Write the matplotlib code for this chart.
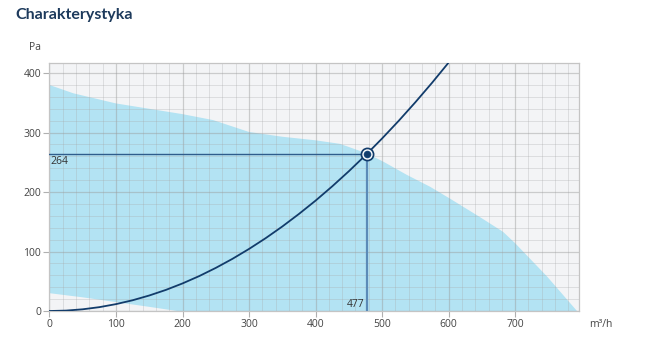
import matplotlib.pyplot as plt
from matplotlib.ticker import MultipleLocator

# zakres pracy wentylatora (obszar)
upper_x = [0, 36, 100, 150, 200, 246, 300, 350, 400, 437, 477, 502, 537, 572, 602,
           647, 682, 700, 748, 793]
upper_y = [380, 366, 349, 340, 331, 321, 301, 293, 287, 281, 265, 251, 229, 209, 189,
           158, 133, 114, 58, 0]
lower_x = [0, 50, 100, 150, 192]
lower_y = [30, 23, 15, 7, 0]

# charakterystyka instalacji
curve_x = [0, 25, 50, 75, 100, 125, 150, 175, 200, 225, 250, 275, 300, 325, 350,
           375, 400, 425, 450, 477, 500, 525, 550, 575, 600]
curve_y = [0, 0.7, 2.9, 6.5, 11.6, 18.1, 26.1, 35.5, 46.4, 58.7, 72.5, 87.7, 104.4,
           122.5, 142.1, 163.2, 185.6, 209.6, 235.0, 264.0, 290.1, 319.8, 351.0, 383.6, 417.7]

point_x = 477
point_y = 264

x_ticks = [0, 100, 200, 300, 400, 500, 600, 700]
y_ticks = [0, 100, 200, 300, 400]

plt.rcParams['font.family'] = ['Open Sans', 'DejaVu Sans']

fig = plt.figure(figsize=(6.59, 3.42), dpi=100)
ax = fig.add_axes([0.0751, 0.0906, 0.8035, 0.7252])
ax.set_facecolor('#f3f4f6')

# obszar: gorna granica + dolna granica (odwrotnie)
poly_x = upper_x + lower_x[::-1]
poly_y = upper_y + lower_y[::-1]
ax.fill(poly_x, poly_y, color='#b3e3f3', lw=0, zorder=0.5)

ax.set_xlim(0, 796)
ax.set_ylim(0, 417)
ax.set_xticks(x_ticks)
ax.set_yticks(y_ticks)
ax.xaxis.set_minor_locator(MultipleLocator(20))
ax.yaxis.set_minor_locator(MultipleLocator(20))
ax.grid(which='major', color='#9a9a9a', alpha=0.45, lw=0.9, zorder=1)
ax.grid(which='minor', color='#a8a8a8', alpha=0.3, lw=0.7, zorder=1)

for s in ax.spines.values():
    s.set_color('#c4c4c4')
    s.set_linewidth(0.9)

ax.tick_params(which='major', length=4, color='#b0b0b0', labelsize=7.5,
               labelcolor='#444444', pad=2)
ax.tick_params(which='minor', length=0)

# linie pomocnicze do punktu pracy
ax.plot([0, point_x], [point_y, point_y], color='#2f5d8c', lw=1.0, zorder=3)
ax.plot([point_x, point_x], [0, point_y], color='#5b8bb8', lw=1.6, zorder=3)
ax.plot(curve_x, curve_y, color='#123c6b', lw=1.3, zorder=4)

ax.plot(point_x, point_y, 'o', ms=9, mfc='#123c6b', mec='#123c6b', zorder=5)
ax.plot(point_x, point_y, 'o', ms=6.5, mfc='#2a5a8e', mec='white', mew=1.0, zorder=6)
ax.plot(point_x, point_y, 'o', ms=3.5, mfc='#123c6b', mec='#123c6b', zorder=7)

ax.text(2, point_y - 3, str(point_y), ha='left', va='top', fontsize=7.5,
        color='#333333', zorder=6)
ax.text(point_x - 3, 2, str(point_x), ha='right', va='bottom', fontsize=7.5,
        color='#333333', zorder=6)

fig.text(0.053, 0.862, 'Pa', fontsize=7.5, color='#444444', ha='center', va='center')
fig.text(0.912, 0.052, 'm³/h', fontsize=7.5, color='#444444', ha='center', va='center')
fig.text(0.023, 0.955, 'Charakterystyka', fontsize=11.5, fontweight='bold',
         family=['Lato', 'DejaVu Sans'], color='#1d3a5c', ha='left', va='center')

fig.savefig('out.png', dpi=100)
